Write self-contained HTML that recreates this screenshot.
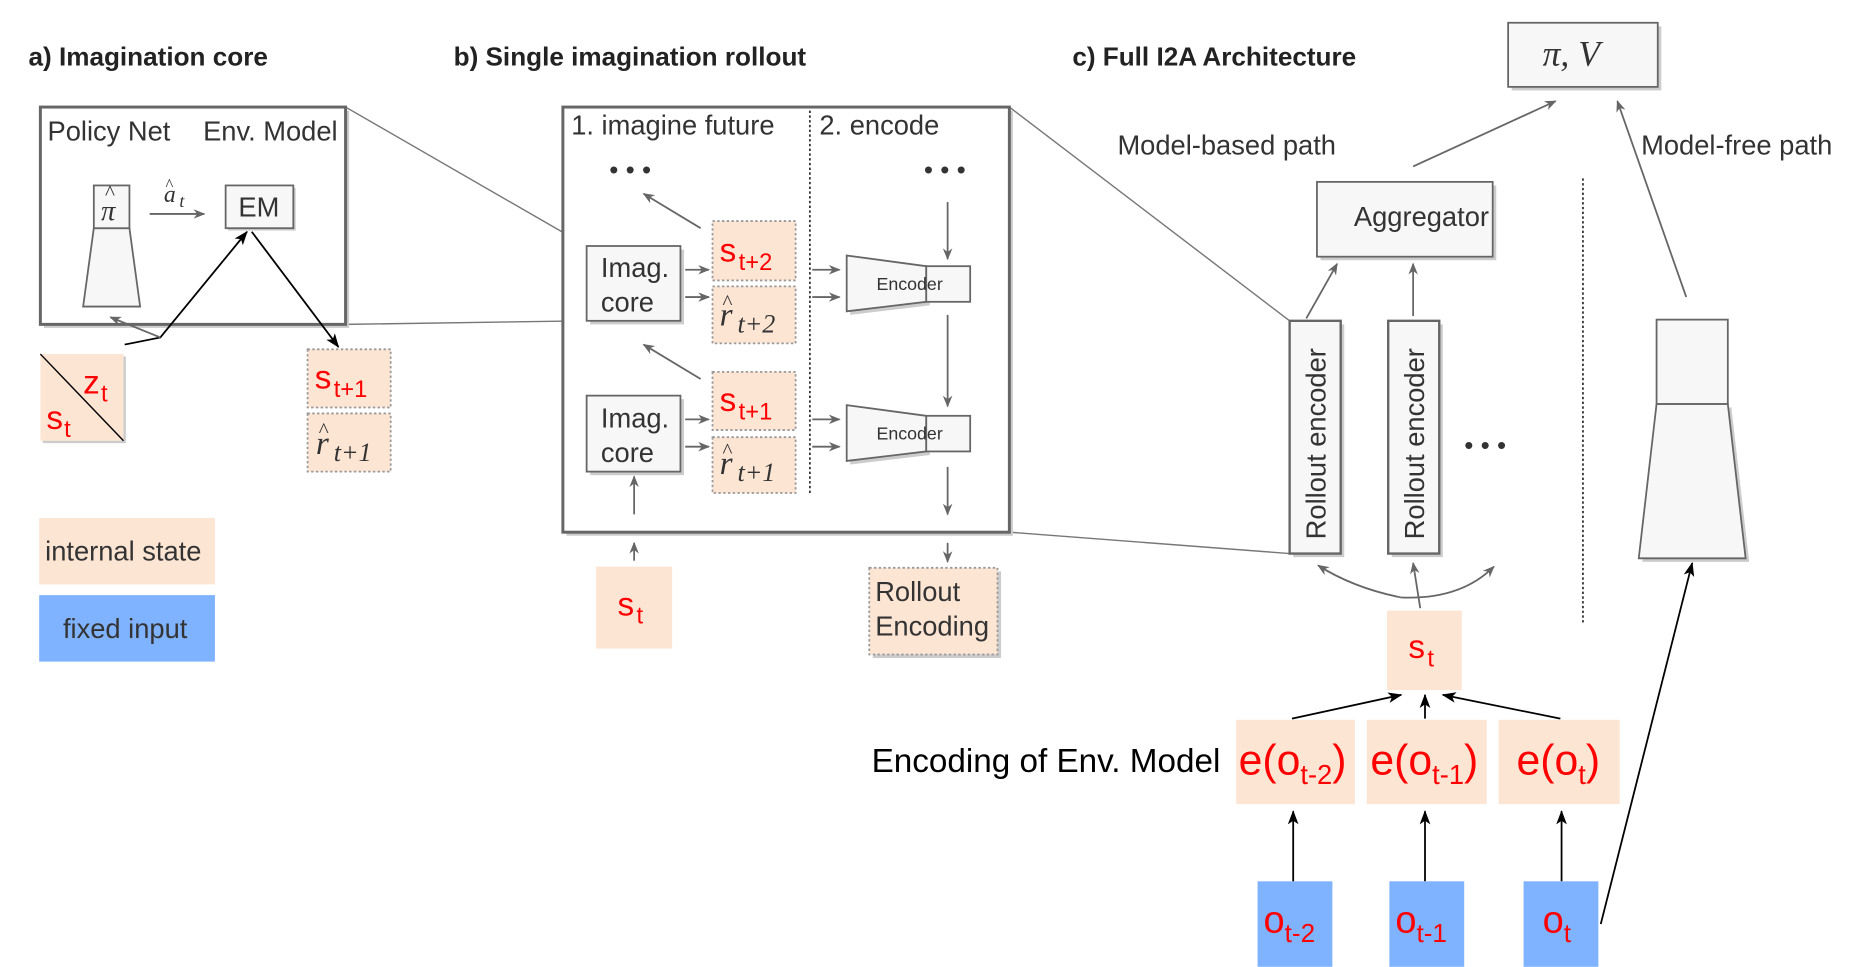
<!DOCTYPE html>
<html><head><meta charset="utf-8">
<style>
html,body{margin:0;padding:0;background:#fff;}
svg{display:block;}
text{font-family:"Liberation Sans",sans-serif;}
.t{font-size:22px;fill:#222;font-weight:bold;}
.l{font-size:23px;fill:#333;}
.r{fill:#f00;}
.m{font-family:"Liberation Serif",serif;font-style:italic;fill:#333;}
</style></head><body>
<svg width="1862" height="967" viewBox="0 0 1568 814" xmlns="http://www.w3.org/2000/svg">
<defs>
<marker id="ag" markerWidth="10" markerHeight="8" refX="9" refY="4" orient="auto" markerUnits="userSpaceOnUse"><path d="M0,0 L10,4 L0,8 L3,4z" fill="#666"/></marker>
<marker id="ak" markerWidth="12" markerHeight="9" refX="11" refY="4.5" orient="auto" markerUnits="userSpaceOnUse"><path d="M0,0 L12,4.5 L0,9 L3,4.5z" fill="#000"/></marker>
</defs>

<text x="24" y="55" class="t">a) Imagination core</text>
<text x="382" y="55" class="t">b) Single imagination rollout</text>
<text x="903" y="55" class="t">c) Full I2A Architecture</text>

<g stroke="#777" stroke-width="1.2" fill="none">
<line x1="291" y1="90" x2="494" y2="207"/>
<line x1="291" y1="273" x2="494" y2="270"/>
<line x1="850" y1="90" x2="1086" y2="270"/>
<line x1="850" y1="448" x2="1086" y2="466"/>
</g>

<rect x="37" y="93" width="257" height="183" fill="#ccc"/>
<rect x="34" y="90" width="257" height="183" fill="#fff" stroke="#666" stroke-width="2.5"/>
<text x="40" y="118" class="l">Policy Net</text>
<text x="171" y="118" class="l">Env. Model</text>
<polygon points="79,192 109,192 118,258 70,258" fill="#f7f7f7" stroke="#666" stroke-width="1.5"/>
<rect x="79" y="156" width="30" height="36" fill="#f7f7f7" stroke="#666" stroke-width="1.5"/>
<text x="85" y="185" class="m" font-size="24">π</text>
<text x="88" y="168" class="m" font-size="18" font-style="normal">^</text>
<text x="138" y="170" class="m" font-size="20">a</text><text x="151" y="174" class="m" font-size="15">t</text>
<text x="139" y="160" class="m" font-size="14" font-style="normal">^</text>
<line x1="126" y1="180" x2="172" y2="180" stroke="#666" stroke-width="1.5" marker-end="url(#ag)"/>
<rect x="192" y="158" width="57" height="36" fill="#ccc"/>
<rect x="190" y="156" width="57" height="36" fill="#f7f7f7" stroke="#666" stroke-width="1.5"/>
<text x="218" y="182" class="l" text-anchor="middle">EM</text>
<polyline points="105,290 135,284 208,195" fill="none" stroke="#000" stroke-width="1.5" marker-end="url(#ak)"/>
<line x1="135" y1="284" x2="93" y2="267" stroke="#666" stroke-width="1.5" marker-end="url(#ag)"/>
<line x1="212" y1="195" x2="285" y2="292" stroke="#000" stroke-width="1.5" marker-end="url(#ak)"/>
<rect x="36" y="300" width="70" height="73" fill="#ccc"/>
<rect x="34" y="298" width="70" height="73" fill="#fde5d4"/>
<line x1="34" y1="298" x2="104" y2="371" stroke="#000" stroke-width="1.2"/>
<text x="70" y="331" class="r" font-size="28">z</text><text x="85" y="338" class="r" font-size="20">t</text>
<text x="39" y="361" class="r" font-size="28">s</text><text x="54" y="368" class="r" font-size="20">t</text>
<g stroke="#999" stroke-width="1.5" stroke-dasharray="2,2">
<rect x="259" y="294" width="70" height="49" fill="#fde5d4"/>
<rect x="259" y="348" width="70" height="49" fill="#fde5d4"/>
</g>
<text x="265" y="327" class="r" font-size="28">s</text><text x="281" y="334" class="r" font-size="20">t+1</text>
<text x="266" y="382" class="m" font-size="28">r</text><text x="268" y="368" class="m" font-size="18" font-style="normal">^</text><text x="281" y="388" class="m" font-size="22" font-style="normal">t+1</text>
<rect x="33" y="436" width="148" height="56" fill="#fde5d4"/>
<text x="38" y="472" class="l">internal state</text>
<rect x="33" y="501" width="148" height="56" fill="#80b3ff"/>
<text x="53" y="537" class="l">fixed input</text>

<rect x="477" y="93" width="376" height="358" fill="#ccc"/>
<rect x="474" y="90" width="376" height="358" fill="#fff" stroke="#666" stroke-width="2.5"/>
<text x="481" y="113" class="l">1. imagine future</text>
<text x="690" y="113" class="l">2. encode</text>
<line x1="682" y1="93" x2="682" y2="415" stroke="#333" stroke-width="1.5" stroke-dasharray="2,2"/>
<text x="513" y="150" font-size="22" fill="#333">• • •</text>
<text x="778" y="150" font-size="22" fill="#333">• • •</text>
<rect x="497" y="210" width="79" height="63" fill="#ccc"/>
<rect x="494" y="207" width="79" height="63" fill="#f7f7f7" stroke="#666" stroke-width="1.5"/>
<text x="506" y="233" class="l">Imag.</text><text x="506" y="262" class="l">core</text>
<rect x="497" y="336" width="79" height="64" fill="#ccc"/>
<rect x="494" y="333" width="79" height="64" fill="#f7f7f7" stroke="#666" stroke-width="1.5"/>
<text x="506" y="360" class="l">Imag.</text><text x="506" y="389" class="l">core</text>
<g stroke="#999" stroke-width="1.5" stroke-dasharray="2,2" fill="#fde5d4">
<rect x="600" y="186" width="70" height="50"/>
<rect x="600" y="241" width="70" height="48"/>
<rect x="600" y="313" width="70" height="49"/>
<rect x="600" y="368" width="70" height="47"/>
</g>
<text x="606" y="220" class="r" font-size="28">s</text><text x="622" y="227" class="r" font-size="20">t+2</text>
<text x="606" y="274" class="m" font-size="28">r</text><text x="608" y="260" class="m" font-size="18" font-style="normal">^</text><text x="621" y="280" class="m" font-size="22" font-style="normal">t+2</text>
<text x="606" y="346" class="r" font-size="28">s</text><text x="622" y="353" class="r" font-size="20">t+1</text>
<text x="606" y="399" class="m" font-size="28">r</text><text x="608" y="385" class="m" font-size="18" font-style="normal">^</text><text x="621" y="405" class="m" font-size="22" font-style="normal">t+1</text>
<g stroke="#666" stroke-width="1.5" marker-end="url(#ag)">
<line x1="577" y1="227" x2="597" y2="227"/><line x1="577" y1="250" x2="597" y2="250"/>
<line x1="577" y1="353" x2="597" y2="353"/><line x1="577" y1="376" x2="597" y2="376"/>
<line x1="684" y1="227" x2="707" y2="227"/><line x1="684" y1="250" x2="707" y2="250"/>
<line x1="684" y1="353" x2="707" y2="353"/><line x1="684" y1="376" x2="707" y2="376"/>
<line x1="590" y1="192" x2="542" y2="163"/><line x1="590" y1="319" x2="542" y2="290"/>
<line x1="798" y1="170" x2="798" y2="218"/><line x1="798" y1="265" x2="798" y2="342"/>
<line x1="798" y1="393" x2="798" y2="433"/><line x1="798" y1="457" x2="798" y2="473"/>
<line x1="534" y1="433" x2="534" y2="401"/><line x1="534" y1="472" x2="534" y2="457"/>
</g>
<g fill="#f7f7f7" stroke="#666" stroke-width="1.5">
<polygon points="716,218 783,227 783,257 716,265" fill="#ccc" stroke="none"/>
<polygon points="713,215 780,224 780,254 713,262"/><rect x="780" y="224" width="37" height="30"/>
<polygon points="716,344 783,353 783,383 716,391" fill="#ccc" stroke="none"/>
<polygon points="713,341 780,350 780,380 713,388"/><rect x="780" y="350" width="37" height="30"/>
</g>
<text x="766" y="244" font-size="15" fill="#333" text-anchor="middle">Encoder</text>
<text x="766" y="370" font-size="15" fill="#333" text-anchor="middle">Encoder</text>
<rect x="502" y="477" width="64" height="69" fill="#fde5d4"/>
<text x="520" y="518" class="r" font-size="28">s</text><text x="536" y="525" class="r" font-size="20">t</text>
<rect x="735" y="481" width="108" height="73" fill="#ccc"/>
<rect x="732" y="478" width="108" height="73" fill="#fde5d4" stroke="#999" stroke-width="1.5" stroke-dasharray="2,2"/>
<text x="737" y="506" class="l">Rollout</text><text x="737" y="535" class="l">Encoding</text>

<rect x="1273" y="22" width="126" height="54" fill="#ccc"/>
<rect x="1270" y="19" width="126" height="54" fill="#f7f7f7" stroke="#666" stroke-width="1.5"/>
<text x="1299" y="55" class="m" font-size="30">π, V</text>
<text x="941" y="130" class="l">Model-based path</text>
<text x="1382" y="130" class="l">Model-free path</text>
<rect x="1112" y="156" width="148" height="63" fill="#ccc"/>
<rect x="1109" y="153" width="148" height="63" fill="#f7f7f7" stroke="#666" stroke-width="1.5"/>
<text x="1197" y="190" class="l" text-anchor="middle">Aggregator</text>
<g stroke="#666" stroke-width="1.5" fill="none" marker-end="url(#ag)">
<line x1="1190" y1="140" x2="1310" y2="85"/>
<line x1="1420" y1="250" x2="1362" y2="85"/>
<line x1="1100" y1="268" x2="1126" y2="222"/>
<line x1="1190" y1="266" x2="1190" y2="222"/>
<line x1="1196" y1="512" x2="1190" y2="474"/>
<path d="M1180,503 Q1140,495 1110,476"/>
<path d="M1180,503 Q1230,505 1258,477"/>
</g>
<g fill="#f7f7f7" stroke="#666" stroke-width="2">
<rect x="1089" y="273" width="43" height="196" fill="#ccc" stroke="none"/>
<rect x="1086" y="270" width="43" height="196"/>
<rect x="1172" y="273" width="43" height="196" fill="#ccc" stroke="none"/>
<rect x="1169" y="270" width="43" height="196"/>
</g>
<text transform="translate(1116,454) rotate(-90)" class="l">Rollout encoder</text>
<text transform="translate(1199,454) rotate(-90)" class="l">Rollout encoder</text>
<text x="1233" y="382" font-size="22" fill="#333">• • •</text>
<line x1="1333" y1="150" x2="1333" y2="525" stroke="#333" stroke-width="1.5" stroke-dasharray="2,2"/>
<g fill="#f7f7f7" stroke="#666" stroke-width="1.5">
<polygon points="1398,343 1458,343 1473,473 1383,473" fill="#ccc" stroke="none"/>
<polygon points="1395,340 1455,340 1470,470 1380,470"/>
<rect x="1395" y="269" width="60" height="71"/>
</g>
<line x1="1348" y1="778" x2="1425" y2="474" stroke="#000" stroke-width="1.5" marker-end="url(#ak)"/>
<rect x="1168" y="514" width="63" height="67" fill="#fde5d4"/>
<text x="1186" y="554" class="r" font-size="28">s</text><text x="1202" y="561" class="r" font-size="20">t</text>
<g stroke="#000" stroke-width="1.5" marker-end="url(#ak)">
<line x1="1088" y1="605" x2="1180" y2="585"/>
<line x1="1200" y1="605" x2="1200" y2="585"/>
<line x1="1314" y1="605" x2="1215" y2="585"/>
<line x1="1089" y1="742" x2="1089" y2="683"/>
<line x1="1200" y1="742" x2="1200" y2="683"/>
<line x1="1315" y1="742" x2="1315" y2="683"/>
</g>
<text x="734" y="650" font-size="28" fill="#000">Encoding of Env. Model</text>
<rect x="1041" y="606" width="100" height="71" fill="#fde5d4"/>
<rect x="1151" y="606" width="101" height="71" fill="#fde5d4"/>
<rect x="1262" y="606" width="102" height="71" fill="#fde5d4"/>
<text x="1043" y="652" class="r" font-size="36">e(o<tspan font-size="23" dy="8">t-2</tspan><tspan dy="-8">)</tspan></text>
<text x="1154" y="652" class="r" font-size="36">e(o<tspan font-size="23" dy="8">t-1</tspan><tspan dy="-8">)</tspan></text>
<text x="1277" y="652" class="r" font-size="36">e(o<tspan font-size="23" dy="8">t</tspan><tspan dy="-8">)</tspan></text>
<rect x="1059" y="742" width="63" height="72" fill="#80b3ff"/>
<rect x="1170" y="742" width="63" height="72" fill="#80b3ff"/>
<rect x="1283" y="742" width="63" height="72" fill="#80b3ff"/>
<text x="1064" y="785" class="r" font-size="32">o<tspan font-size="22" dy="8">t-2</tspan></text>
<text x="1175" y="785" class="r" font-size="32">o<tspan font-size="22" dy="8">t-1</tspan></text>
<text x="1299" y="785" class="r" font-size="32">o<tspan font-size="22" dy="8">t</tspan></text>
</svg>
</body></html>
